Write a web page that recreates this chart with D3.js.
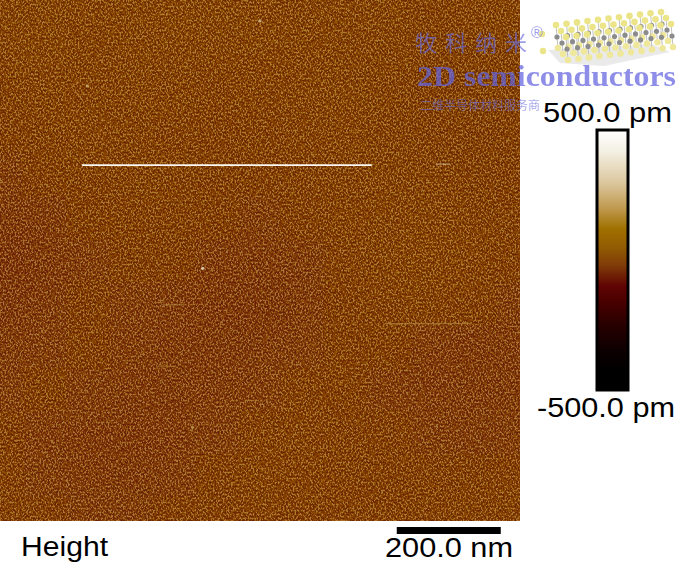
<!DOCTYPE html>
<html><head><meta charset="utf-8">
<script src="https://cdn.jsdelivr.net/npm/d3@7/dist/d3.min.js"></script>
<style>
html,body{margin:0;padding:0;background:#fff;}
svg{display:block;}
text{font-family:"Liberation Sans",Arial,sans-serif;}
</style></head>
<body>
<script>
// ---- data ----
const scanSizeNm = 1000;               // image width/height in nm
const heightRangePm = [-500, 500];     // colour scale range
const colorStopValues = [500, 420, 300, 200, 120, 50, -20, -100, -160, -250, -350, -430, -500];
const colorStopColors = ["#ffffff","#f4f0e4","#dcc8a0","#c09a50","#a07000","#925c02","#803c08","#600404","#4a0000","#280000","#0c0000","#000000","#000000"];
// coarse height map (pm), 13 x 13 regions
const heightGrid = [
 [25,25,20,25,30,25,20,20,25,20,15,20,25],
 [20,25,15,20,25,20,25,20,15,20,15,15,20],
 [15,20,15,20,15,10,15,20,25,15,10,15,15],
 [5,15,20,15,10,5,10,15,20,15,5,5,10],
 [-5,5,10,15,15,10,5,10,15,20,15,5,0],
 [-25,-15,5,10,5,0,-5,5,15,20,20,15,5],
 [-35,-25,-5,5,0,-15,-20,-10,10,20,25,15,5],
 [-30,-15,0,-5,-15,-25,-30,-20,5,15,15,5,-5],
 [-15,-5,0,-10,-20,-25,-20,-5,10,0,-15,-25,-20],
 [-5,0,-5,-15,-20,-15,-5,10,5,-5,-15,-20,-15],
 [5,-10,-20,-25,-15,-5,10,15,5,0,-5,-10,-5],
 [10,-5,-15,-20,-10,5,15,10,5,5,5,5,10],
 [15,5,-5,-5,5,10,15,10,10,10,15,15,20]
];
// bright scan-line streaks: [x0 nm, x1 nm, y nm, height pm]
const streaks = [
 [158, 715, 317, 470],
 [838, 866, 315, 350],
 [740, 905, 621, 200],
 [310, 355, 585, 200],
 [300, 335, 703, 180]
];
// bright particles: [x nm, y nm, height pm]
const particles = [[390, 515, 380],[500, 40, 300],[168, 165, 250],[370, 820, 200]];
const scaleBarNm = 200;
const scaleBarLabel = "200.0 nm";
const channelLabel = "Height";
const colorbarLabels = ["500.0 pm", "-500.0 pm"];

// ---- layout ----
const W = 676, H = 562;
const img = {x:0, y:0, w:520, h:521};
const svg = d3.select("body").append("svg").attr("width", W).attr("height", H);
const defs = svg.append("defs");

const color = d3.scaleLinear().domain(colorStopValues).range(colorStopColors).clamp(true);
const xNm = d3.scaleLinear().domain([0, scanSizeNm]).range([img.x, img.x + img.w]);
const yNm = d3.scaleLinear().domain([0, scanSizeNm]).range([img.y, img.y + img.h]);

// image
defs.append("clipPath").attr("id","imgclip").append("rect")
  .attr("x",img.x).attr("y",img.y).attr("width",img.w).attr("height",img.h);
defs.append("filter").attr("id","soft").attr("x","-10%").attr("y","-10%").attr("width","120%").attr("height","120%")
  .append("feGaussianBlur").attr("stdDeviation", 20);

const n = heightGrid.length;
const bx = d3.scaleBand().domain(d3.range(n)).range([img.x - 20, img.x + img.w + 20]);
const by = d3.scaleBand().domain(d3.range(n)).range([img.y - 20, img.y + img.h + 20]);
const gImg = svg.append("g").attr("clip-path","url(#imgclip)");
gImg.append("rect").attr("x",img.x).attr("y",img.y).attr("width",img.w).attr("height",img.h)
  .attr("fill", color(d3.mean(heightGrid.flat())));
gImg.append("g").attr("filter","url(#soft)")
  .selectAll("g").data(heightGrid).join("g")
  .each(function(row, r){
    d3.select(this).selectAll("rect").data(row).join("rect")
      .attr("x",(d,c)=>bx(c)).attr("y",by(r))
      .attr("width",bx.bandwidth()+1).attr("height",by.bandwidth()+1)
      .attr("fill",d=>color(d));
  });

// fine-grain texture (visual style only)
const grain = defs.append("filter").attr("id","grain").attr("filterUnits","userSpaceOnUse")
  .attr("x",img.x).attr("y",img.y).attr("width",img.w).attr("height",img.h)
  .attr("color-interpolation-filters","sRGB");
grain.append("feTurbulence").attr("type","fractalNoise").attr("baseFrequency","0.6 0.5").attr("numOctaves",2).attr("seed",7).attr("result","t");
grain.append("feColorMatrix").attr("in","t").attr("type","matrix")
  .attr("values","3.4 0 0 0 -1.2  3.4 0 0 0 -1.2  3.4 0 0 0 -1.2  0 0 0 0 0.55").attr("result","v");
const ct = grain.append("feComponentTransfer").attr("in","v");
ct.append("feFuncR").attr("type","table").attr("tableValues","0.31 0.42 0.50 0.61 0.80");
ct.append("feFuncG").attr("type","table").attr("tableValues","0.04 0.12 0.22 0.37 0.63");
ct.append("feFuncB").attr("type","table").attr("tableValues","0.0 0.0 0.02 0.05 0.34");
gImg.append("rect").attr("x",img.x).attr("y",img.y).attr("width",img.w).attr("height",img.h)
  .attr("fill","#000").attr("filter","url(#grain)");

// streaks and particles
gImg.selectAll("line.streak").data(streaks).join("line").attr("class","streak")
  .attr("x1",d=>xNm(d[0])).attr("x2",d=>xNm(d[1]))
  .attr("y1",d=>yNm(d[2])).attr("y2",d=>yNm(d[2]))
  .attr("stroke",d=>color(d[3])).attr("stroke-width",d=>d[3]>400?1.6:1.2)
  .attr("opacity",d=>d[3]>400?1:0.55);
gImg.selectAll("circle.p").data(particles).join("circle").attr("class","p")
  .attr("cx",d=>xNm(d[0])).attr("cy",d=>yNm(d[1])).attr("r",1.6)
  .attr("fill",d=>color(d[2])).attr("opacity",0.8);

// ---- watermark ----
const wm = svg.append("g");
const lat = wm.append("g").attr("opacity",0.9);
lat.append("path").attr("d","M548,50 L652,44 L670,52 L604,66 L560,63 Z").attr("fill","#d8d8d8").attr("opacity",0.6);
const cols = d3.range(11), rowsL = d3.range(3);
rowsL.forEach(r=>{
  cols.forEach(c=>{
    const x = 556 + c*10.5 + r*5, y = 37 + r*6 - c*1.3;
    lat.append("line").attr("x1",x).attr("y1",y-12).attr("x2",x+2).attr("y2",y+11)
      .attr("stroke","#aaa").attr("stroke-width",0.8);
    lat.append("circle").attr("cx",x+1).attr("cy",y).attr("r",2.6).attr("fill","#808080");
    lat.append("circle").attr("cx",x).attr("cy",y-12).attr("r",3.3).attr("fill","#e9e27c");
    lat.append("circle").attr("cx",x+2).attr("cy",y+11).attr("r",3.3).attr("fill","#eee690");
  });
});
lat.append("circle").attr("cx",542).attr("cy",34).attr("r",3.2).attr("fill","#e9e27c");
lat.append("circle").attr("cx",543).attr("cy",51).attr("r",3.2).attr("fill","#e9e27c");

wm.append("text").attr("x",415).attr("y",51)
  .style("font-family","'Noto Sans CJK SC',sans-serif").style("font-size","22px")
  .attr("textLength",112).attr("lengthAdjust","spacing")
  .attr("fill","#6a6ae0").attr("opacity",0.65).text("牧科纳米");
wm.append("text").attr("x",531).attr("y",38)
  .style("font-size","16px").attr("fill","#8888ee").attr("opacity",0.8).text("®");
wm.append("text").attr("x",417).attr("y",86)
  .style("font-family","'Liberation Serif','DejaVu Serif',serif").style("font-size","30px").style("font-weight","bold")
  .attr("textLength",259).attr("lengthAdjust","spacingAndGlyphs")
  .attr("fill","#6464e0").attr("opacity",0.72).text("2D semiconductors");
wm.append("text").attr("x",420).attr("y",110)
  .style("font-family","'Noto Sans CJK SC',sans-serif").style("font-size","12px")
  .attr("textLength",120).attr("lengthAdjust","spacing")
  .attr("fill","#7070e0").attr("opacity",0.6).text("二维半导体材料服务商");

// ---- colorbar ----
const cb = {x:597, y:130, w:31, h:260};
const cy = d3.scaleLinear().domain(heightRangePm).range([cb.y + cb.h, cb.y]);
const grad = defs.append("linearGradient").attr("id","cbgrad").attr("x1",0).attr("y1",1).attr("x2",0).attr("y2",0);
grad.selectAll("stop").data(colorStopValues.slice().reverse()).join("stop")
  .attr("offset",d=>(d - heightRangePm[0])/(heightRangePm[1]-heightRangePm[0]))
  .attr("stop-color",d=>color(d));
svg.append("rect").attr("x",cb.x).attr("y",cb.y).attr("width",cb.w).attr("height",cb.h)
  .attr("fill","url(#cbgrad)").attr("stroke","#000").attr("stroke-width",3);
svg.append("text").attr("x",543).attr("y",cy(heightRangePm[1]) - 8)
  .style("font-size","28px").attr("textLength",129).attr("lengthAdjust","spacingAndGlyphs")
  .attr("fill","#000").text(colorbarLabels[0]);
svg.append("text").attr("x",537).attr("y",cy(heightRangePm[0]) + 27)
  .style("font-size","28px").attr("textLength",138).attr("lengthAdjust","spacingAndGlyphs")
  .attr("fill","#000").text(colorbarLabels[1]);

// ---- labels & scale bar ----
svg.append("text").attr("x",21).attr("y",556).style("font-size","27px")
  .attr("textLength",87).attr("lengthAdjust","spacingAndGlyphs").attr("fill","#000").text(channelLabel);
const sbStart = 763;
svg.append("rect").attr("x",xNm(sbStart)).attr("y",527)
  .attr("width",xNm(sbStart+scaleBarNm)-xNm(sbStart)).attr("height",7).attr("fill","#000");
svg.append("text").attr("x",385).attr("y",557)
  .style("font-size","27px").attr("textLength",128).attr("lengthAdjust","spacingAndGlyphs")
  .attr("fill","#000").text(scaleBarLabel);
</script>
</body></html>
